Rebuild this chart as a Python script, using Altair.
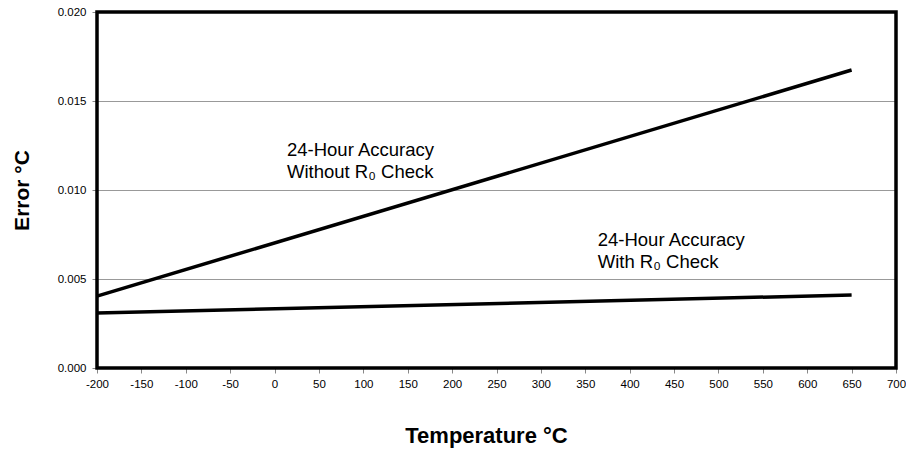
import altair as alt
import pandas as pd

temps = [-200, 650]
err_without = [0.00404, 0.01674]
err_with = [0.00309, 0.00410]
series = ["Without", "With"]

x_ticks = list(range(-200, 701, 50))
y_ticks = [0.0, 0.005, 0.010, 0.015, 0.020]

ann_x = [14, 14, 364, 364]
ann_y = [0.01225, 0.01101, 0.00719, 0.00596]
ann_text = ["24-Hour Accuracy", "Without R\u2080 Check", "24-Hour Accuracy", "With R\u2080 Check"]

W, H = 799, 356

rows = []
for s, vals in zip(series, [err_without, err_with]):
    for t, v in zip(temps, vals):
        rows.append({"series": s, "temp": t, "err": v})
df = pd.DataFrame(rows)
ann = pd.DataFrame({"x": ann_x, "y": ann_y, "text": ann_text})

FONT = "Liberation Sans"

x_enc = alt.X("temp:Q", scale=alt.Scale(domain=[-200, 700], nice=False),
              axis=alt.Axis(values=x_ticks, title="Temperature \u00b0C", grid=False,
                            labelExpr="'' + datum.value", labelFlush=False,
                            titleFontSize=22, titleFont=FONT, titleFontWeight="bold",
                            titlePadding=36, titleX=389, titleColor="black",
                            labelFontSize=11.5, labelFont=FONT,
                            labelColor="black", tickColor="#888", tickSize=5, labelPadding=5,
                            domain=False))
y_enc = alt.Y("err:Q", scale=alt.Scale(domain=[0, 0.02], nice=False),
              axis=alt.Axis(values=y_ticks, title="Error \u00b0C", format=".3f", grid=True,
                            labelFlush=False,
                            gridColor="#999", gridWidth=1, titleFontSize=21, titleFont=FONT,
                            titleFontWeight="bold", titlePadding=25, titleColor="black",
                            labelFontSize=11.5, labelFont=FONT, labelColor="black",
                            tickColor="#888", tickSize=5, labelPadding=6, domain=False))

lines = alt.Chart(df).mark_line(color="black", strokeWidth=3.5).encode(
    x=x_enc, y=y_enc, detail="series:N")

texts = alt.Chart(ann).mark_text(align="left", baseline="middle", fontSize=18.5,
                                 font=FONT, color="black").encode(
    x=alt.X("x:Q"), y=alt.Y("y:Q"), text="text:N")

frame = alt.Chart(pd.DataFrame({"f": [0]})).mark_rect(
    fill=None, fillOpacity=0, stroke="black", strokeWidth=3.5).encode(
    x=alt.value(0), x2=alt.value(W), y=alt.value(0), y2=alt.value(H))

chart = alt.layer(lines, texts, frame).properties(
    width=W, height=H,
    background="white",
    autosize=alt.AutoSizeParams(type="none"),
    padding={"left": 89, "top": 4, "right": 10, "bottom": 80},
).configure_view(stroke=None)

chart.save("out.html", embed_options={"renderer": "svg", "actions": False})
